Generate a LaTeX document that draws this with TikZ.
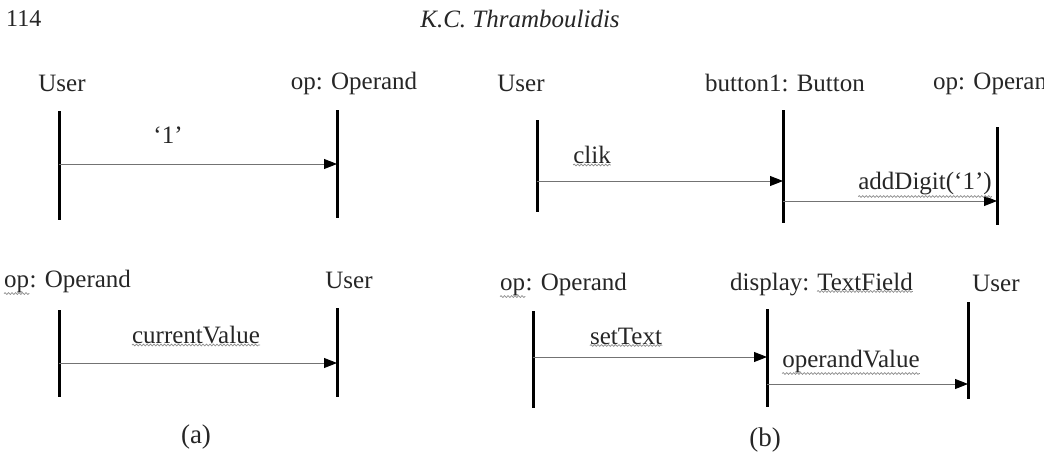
\documentclass[tikz,border=0pt]{standalone}
\usepackage{fontspec}
\setmainfont{Liberation Serif}
\usetikzlibrary{arrows.meta,decorations.pathmorphing}
\begin{document}
\begin{tikzpicture}[x=1pt,y=-1pt,
  lbl/.style={font=\fontsize{25}{27}\selectfont,inner sep=0pt,text=black!85},
  life/.style={line width=3pt},
  msg/.style={draw=black!55,line width=0.9pt,-{Triangle[length=13pt,width=10pt,fill=black,color=black]}},
  squig/.style={draw=black!45,line width=0.7pt,decorate,decoration={snake,amplitude=0.9pt,segment length=3.5pt}}]
\useasboundingbox (0,0) rectangle (1044,466);
\node[lbl,anchor=west,font=\fontsize{24}{26}\selectfont] (pg) at (6,19) {114};
\node[lbl,font=\itshape\fontsize{25}{27}\selectfont] (hd) at (520,19) {K.C. Thramboulidis};
% (a) top
\node[lbl] (u1) at (62,83) {User};
\node[lbl] (o1) at (354,83) {op: Operand};
\coordinate (a1t) at (59,111); \coordinate (a1b) at (59,220);
\coordinate (a2t) at (337,110); \coordinate (a2b) at (337,218);
\draw[life] (a1t) -- (a1b); \draw[life] (a2t) -- (a2b);
\coordinate (m1s) at (59,164); \coordinate (m1e) at (337,164);
\draw[msg] (m1s) -- (m1e);
\node[lbl] (l1) at (168,135) {‘1’};
% (a) bottom
\node[lbl,anchor=base west] (o2a) at (4,287) {op};
\node[lbl,anchor=base west] (o2b) at (o2a.base east) {: Operand};
\draw[squig] ([yshift=-1pt]o2a.south west) -- ([yshift=-1pt]o2a.south east);
\node[lbl] (u2) at (349,280) {User};
\draw[life] (59,310) -- (59,397); \draw[life] (337,308) -- (337,397);
\coordinate (m2s) at (59,363); \coordinate (m2e) at (337,363);
\draw[msg] (m2s) -- (m2e);
\node[lbl] (l2) at (196,335) {currentValue};
\draw[squig] ([yshift=-1pt]l2.south west) -- ([yshift=-1pt]l2.south east);
\node[lbl,font=\fontsize{27}{29}\selectfont] (ca) at (196,437) {(a)};
% (b) top
\node[lbl] (u3) at (521,83) {User};
\node[lbl] (b3) at (785,83) {button1: Button};
\node[lbl,anchor=west] (o3) at (933,83) {op: Operand};
\draw[life] (537,120) -- (537,212);
\draw[life] (783,110) -- (783,223);
\draw[life] (997,127) -- (997,225);
\coordinate (m3s) at (537,181); \coordinate (m3e) at (783,181);
\draw[msg] (m3s) -- (m3e);
\node[lbl] (l3) at (592,155) {clik};
\draw[squig] ([yshift=-1pt]l3.south west) -- ([yshift=-1pt]l3.south east);
\coordinate (m4s) at (783,201); \coordinate (m4e) at (997,201);
\draw[msg] (m4s) -- (m4e);
\node[lbl] (l4) at (925,184) {addDigit(‘1’)};
\draw[squig] ([yshift=-1pt]l4.south west) -- ([yshift=-1pt]l4.south east);
% (b) bottom
\node[lbl,anchor=base west] (o5a) at (500,290) {op};
\node[lbl,anchor=base west] (o5b) at (o5a.base east) {: Operand};
\draw[squig] ([yshift=-1pt]o5a.south west) -- ([yshift=-1pt]o5a.south east);
\node[lbl,anchor=base west] (d5a) at (730,290) {display:\hspace*{0.3em}};
\node[lbl,anchor=base west] (d5b) at (d5a.base east) {TextField};
\draw[squig] ([yshift=-1pt]d5b.south west) -- ([yshift=-1pt]d5b.south east);
\node[lbl] (u5) at (996,283) {User};
\draw[life] (533,311) -- (533,408);
\draw[life] (767,309) -- (767,407);
\draw[life] (968,302) -- (968,399);
\coordinate (m5s) at (533,357); \coordinate (m5e) at (767,357);
\draw[msg] (m5s) -- (m5e);
\node[lbl] (l5) at (626,336) {setText};
\draw[squig] ([yshift=-1pt]l5.south west) -- ([yshift=-1pt]l5.south east);
\coordinate (m6s) at (767,384); \coordinate (m6e) at (968,384);
\draw[msg] (m6s) -- (m6e);
\node[lbl] (l6) at (851,361) {operandValue};
\draw[squig] ([yshift=-1pt]l6.south west) -- ([yshift=-1pt]l6.south east);
\node[lbl,font=\fontsize{27}{29}\selectfont] (cb) at (765,440) {(b)};
\end{tikzpicture}
\end{document}
